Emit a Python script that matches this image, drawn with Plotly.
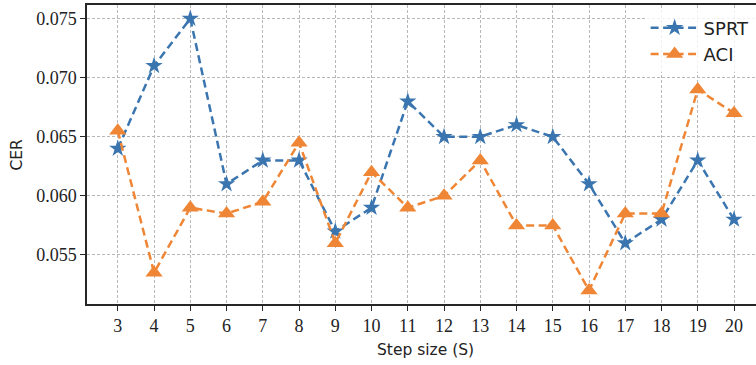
import plotly.graph_objects as go

# Step sizes evaluated
step_sizes = list(range(3, 21))

# Character error rate per step size
cer_sprt = [0.064, 0.071, 0.075, 0.061, 0.063, 0.063, 0.057, 0.059, 0.068,
            0.065, 0.065, 0.066, 0.065, 0.061, 0.056, 0.058, 0.063, 0.058]
cer_aci = [0.0655, 0.0535, 0.059, 0.0585, 0.0595, 0.0645, 0.056, 0.062, 0.059,
           0.060, 0.063, 0.0575, 0.0575, 0.052, 0.0585, 0.0585, 0.069, 0.067]

y_ticks = [0.055, 0.060, 0.065, 0.070, 0.075]
y_tick_text = ["0.055", "0.060", "0.065", "0.070", "0.075"]

BLUE = "#3b75af"
ORANGE = "#ef8636"
AXIS = "#262626"
GRID = "#b8b8b8"
TICK_FONT = dict(family="Liberation Serif", size=18, color="#222222")
LABEL_FONT = dict(family="DejaVu Sans", size=15.5, color="#222222")

fig = go.Figure()
fig.add_trace(go.Scatter(
    x=step_sizes, y=cer_sprt, name="SPRT", mode="lines+markers",
    line=dict(color=BLUE, width=2.5, dash="8px,4.5px"),
    marker=dict(symbol="star", size=13, color=BLUE, line=dict(width=0)),
))
fig.add_trace(go.Scatter(
    x=step_sizes, y=cer_aci, name="ACI", mode="lines+markers",
    line=dict(color=ORANGE, width=2.5, dash="8px,4.5px"),
    marker=dict(symbol="triangle-up", size=15, color=ORANGE, line=dict(width=0)),
))

fig.update_layout(
    width=756, height=365,
    margin=dict(l=87, r=0, t=5, b=61),
    paper_bgcolor="white", plot_bgcolor="white",
    showlegend=True,
    legend=dict(
        x=0.835, y=0.985, xanchor="left", yanchor="top",
        bgcolor="rgba(255,255,255,0.8)", borderwidth=0,
        font=dict(family="DejaVu Sans", size=18, color="#222222"),
        itemwidth=48, tracegroupgap=0,
    ),
    xaxis=dict(
        range=[2.15, 20.607], tickmode="array", tickvals=step_sizes,
        ticktext=[str(s) for s in step_sizes],
        showline=True, linecolor=AXIS, linewidth=1.5, mirror=True,
        ticks="outside", ticklen=5, tickwidth=1.3, tickcolor=AXIS,
        tickfont=TICK_FONT,
        showgrid=True, gridcolor=GRID, gridwidth=0.8, griddash="3px,2px",
        zeroline=False,
    ),
    yaxis=dict(
        range=[0.05085, 0.07615], tickmode="array", tickvals=y_ticks,
        ticktext=y_tick_text,
        showline=True, linecolor=AXIS, linewidth=1.5,
        ticks="outside", ticklen=5, tickwidth=1.3, tickcolor=AXIS,
        tickfont=TICK_FONT,
        showgrid=True, gridcolor=GRID, gridwidth=0.8, griddash="3px,2px",
        zeroline=False,
    ),
    annotations=[
        dict(text="Step size (S)", x=11.5, xref="x", y=0, yref="paper",
             yshift=-46, showarrow=False, font=LABEL_FONT,
             xanchor="center", yanchor="middle"),
        dict(text="CER", x=0, xref="paper", y=0.5, yref="paper",
             xshift=-71, showarrow=False, font=LABEL_FONT, textangle=-90,
             xanchor="center", yanchor="middle"),
    ],
)

fig.write_html("out.html")
